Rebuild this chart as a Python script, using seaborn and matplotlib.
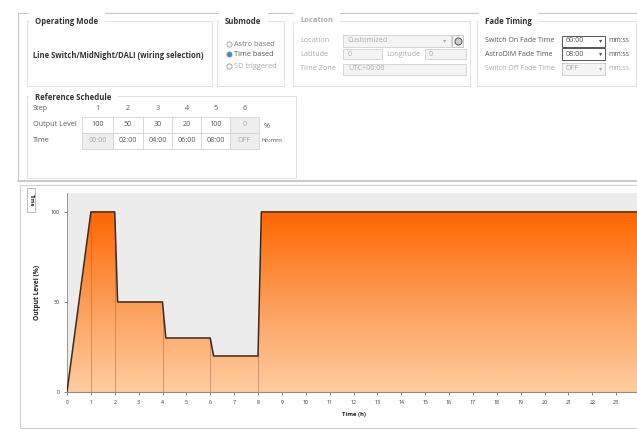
import numpy as np
import pandas as pd
import matplotlib
matplotlib.use("Agg")
import matplotlib.pyplot as plt
import seaborn as sns
from matplotlib.patches import Rectangle, PathPatch
from matplotlib.colors import LinearSegmentedColormap

sns.set_theme(style="white")
plt.rcParams['font.family'] = ['Open Sans', 'DejaVu Sans']

# Reference schedule table
steps = ["1", "2", "3", "4", "5", "6"]
output_levels = ["100", "50", "30", "20", "100", "0"]
step_times = ["00:00", "02:00", "04:00", "06:00", "08:00", "OFF"]

# Dimming profile (hour, output level %)
profile_hours = [0, 1, 2, 2.12, 4, 4.14, 6, 6.14, 8, 8.14, 24]
profile_levels = [0, 100, 100, 50, 50, 30, 30, 20, 20, 100, 100]
step_marks = [1, 2, 4, 6, 8]
hour_ticks = list(range(0, 24))
level_ticks = [0, 50, 100]

profile = pd.DataFrame({"hour": profile_hours, "level": profile_levels})

W, H = 637, 432
fig = plt.figure(figsize=(W / 100, H / 100), dpi=100)
fig.patch.set_facecolor("white")


def fx(x):
    return x / W


def fy(y):
    return 1 - y / H


def box(x0, y0, x1, y1, ec="#dcdcdc", fc="none", lw=0.6):
    fig.add_artist(Rectangle((fx(x0), fy(y1)), fx(x1) - fx(x0), fy(y0) - fy(y1),
                             transform=fig.transFigure, ec=ec, fc=fc, lw=lw))


def dot(x, y, size, ec, fc, lw=0.5):
    fig.add_artist(plt.Line2D([fx(x)], [fy(y)], transform=fig.transFigure, marker="o",
                              markersize=size, markeredgecolor=ec, markerfacecolor=fc,
                              markeredgewidth=lw, linestyle="none"))


def label(x, y, s, size=5.2, color="#5a5a5a", weight="normal", ha="left", **kw):
    fig.text(fx(x), fy(y), s, fontsize=size, color=color, fontweight=weight,
             ha=ha, va="center", **kw)


# ---- settings panel ----
fig.add_artist(plt.Line2D([fx(18), 1], [fy(13), fy(13)], transform=fig.transFigure, color="#c8c8c8", lw=0.8))
fig.add_artist(plt.Line2D([fx(18), fx(18)], [fy(13), fy(181)], transform=fig.transFigure, color="#c8c8c8", lw=0.8))
fig.add_artist(plt.Line2D([fx(18), 1], [fy(181), fy(181)], transform=fig.transFigure, color="#c0c0c0", lw=1.2))

# Operating Mode
box(27, 21, 212, 86)
label(35, 21, "Operating Mode", size=5.6, color="#333333", weight="bold", backgroundcolor="white")
label(33, 55, "Line Switch/MidNight/DALI (wiring selection)", size=5.5, color="#333333", weight="bold")

# Submode
box(217, 21, 284, 86)
label(225, 21, "Submode", size=5.6, color="#333333", weight="bold", backgroundcolor="white")
for yy, txt, col, on in [(44, "Astro based", "#777777", False),
                         (54, "Time based", "#555555", True),
                         (66, "SD triggered", "#aaaaaa", False)]:
    dot(229.5, yy, 3.8, "#999999", "#3a8fc4" if on else "#f2f2f2")
    label(234, yy, txt, size=5.3, color=col)

# Location
box(293, 21, 470, 86)
label(300, 21, "Location", size=5.4, color="#aaaaaa", weight="bold", backgroundcolor="white")
label(300, 41, "Location", color="#aaaaaa")
label(300, 54, "Latitude", color="#aaaaaa")
label(300, 69, "Time Zone", color="#aaaaaa")
box(343, 35, 451, 47, ec="#d0d0d0", fc="#f4f4f4")
label(348, 41, "Customized", color="#aaaaaa")
label(446, 41, "\u25be", size=4.5, color="#aaaaaa", ha="right")
box(452, 35, 463, 47, ec="#c0c0c0", fc="#f4f4f4")
dot(457.5, 41, 5.0, "#555555", "#cfcfcf", lw=0.7)
box(343, 49, 382, 59, ec="#d0d0d0", fc="#f4f4f4")
label(348, 54, "0", color="#aaaaaa")
label(386, 54, "Longitude", color="#aaaaaa")
box(425, 49, 466, 59, ec="#d0d0d0", fc="#f4f4f4")
label(429, 54, "0", color="#aaaaaa")
box(343, 64, 466, 75, ec="#d0d0d0", fc="#f4f4f4")
label(348, 69, "UTC+00:00", color="#aaaaaa")

# Fade Timing
box(477, 21, 636, 86)
label(485, 21, "Fade Timing", size=5.6, color="#333333", weight="bold", backgroundcolor="white")
for yy, txt, val, col, ec in [(41, "Switch On Fade Time", "60:00", "#555555", "#555555"),
                              (54, "AstroDIM Fade Time", "08:00", "#555555", "#555555"),
                              (69, "Switch Off Fade Time", "OFF", "#aaaaaa", "#d0d0d0")]:
    label(485, yy, txt, size=5.1, color=col)
    box(562, yy - 5.5, 605, yy + 5.5, ec=ec, fc="white" if col == "#555555" else "#f4f4f4", lw=0.7)
    label(566, yy, val, size=5.1, color=col)
    label(602, yy, "\u25be", size=4.6, color=col, ha="right")
    label(608, yy, "mm:ss", size=4.9, color=col)

# Reference Schedule
box(27, 96, 296, 178)
label(35, 97, "Reference Schedule", size=5.6, color="#333333", weight="bold", backgroundcolor="white")
label(33, 109, "Step")
label(33, 125, "Output Level")
label(33, 141, "Time")
cell_edges = [82, 113, 143, 172, 201, 230, 259]
for i in range(6):
    x0, x1 = cell_edges[i], cell_edges[i + 1]
    xc = (x0 + x1) / 2
    label(xc, 109, steps[i], ha="center")
    last = i == 5
    box(x0, 117, x1, 133, ec="#d4d4d4", fc="#eeeeee" if last else "white")
    label(xc, 125, output_levels[i], ha="center", color="#aaaaaa" if last else "#555555")
    grey = i in (0, 5)
    box(x0, 133, x1, 149, ec="#d4d4d4", fc="#eeeeee" if grey else "white")
    label(xc, 141, step_times[i], ha="center", color="#aaaaaa" if grey else "#555555")
label(264, 126, "%")
label(262, 141, "hh:mm", size=4.6)

# ---- chart panel ----
box(20, 185, 640, 428, ec="#d0d0d0", lw=0.8)
box(27, 188, 35, 212, ec="#b0b0b0", fc="white", lw=0.6)
label(31, 200, "Time", size=3.6, color="#333333", ha="center", rotation=-90, weight="bold")

ax = fig.add_axes([fx(67), fy(392), fx(640) - fx(67), fy(193) - fy(392)])
ax.set_facecolor("#ececec")
ax.set_xlim(0, 24)
ax.set_ylim(0, 110.5)

# gradient fill under the profile
area = ax.fill_between(profile["hour"], profile["level"], 0, color="none", lw=0)
clip = PathPatch(area.get_paths()[0], transform=ax.transData, fc="none", ec="none")
ax.add_patch(clip)
cmap = LinearSegmentedColormap.from_list("fade", ["#fdcd9f", "#fd9c57", "#ff6600"])
grad = np.linspace(0, 1, 256).reshape(-1, 1)
im = ax.imshow(grad, cmap=cmap, origin="lower", extent=[0, 24, 0, 100], aspect="auto", zorder=1)
im.set_clip_path(clip)
marks = ax.vlines(step_marks, 0, 110, color="#9a6a48", lw=0.5, alpha=0.7, zorder=2)
marks.set_clip_path(clip)

sns.lineplot(data=profile, x="hour", y="level", ax=ax, color="#3c2a1c", lw=1.1,
             estimator=None, sort=False, zorder=3)

ax.set_xticks(hour_ticks)
ax.set_yticks(level_ticks)
ax.tick_params(axis="both", which="both", bottom=True, left=True, length=2.5, width=0.5,
               color="#555555", labelsize=3.8, labelcolor="#333333", pad=3)
for side in ["top", "right"]:
    ax.spines[side].set_visible(False)
ax.spines["left"].set_color("#8a8a8a")
ax.spines["bottom"].set_color("#8a8a8a")
ax.spines["left"].set_linewidth(0.6)
ax.spines["bottom"].set_linewidth(0.8)
ax.set_xlabel("Time (h)", fontsize=4.2, fontweight="bold", color="#222222", labelpad=5)
ax.set_ylabel("Output Level (%)", fontsize=4.8, fontweight="bold", color="#222222", labelpad=7)

fig.savefig("out.png", dpi=100)
